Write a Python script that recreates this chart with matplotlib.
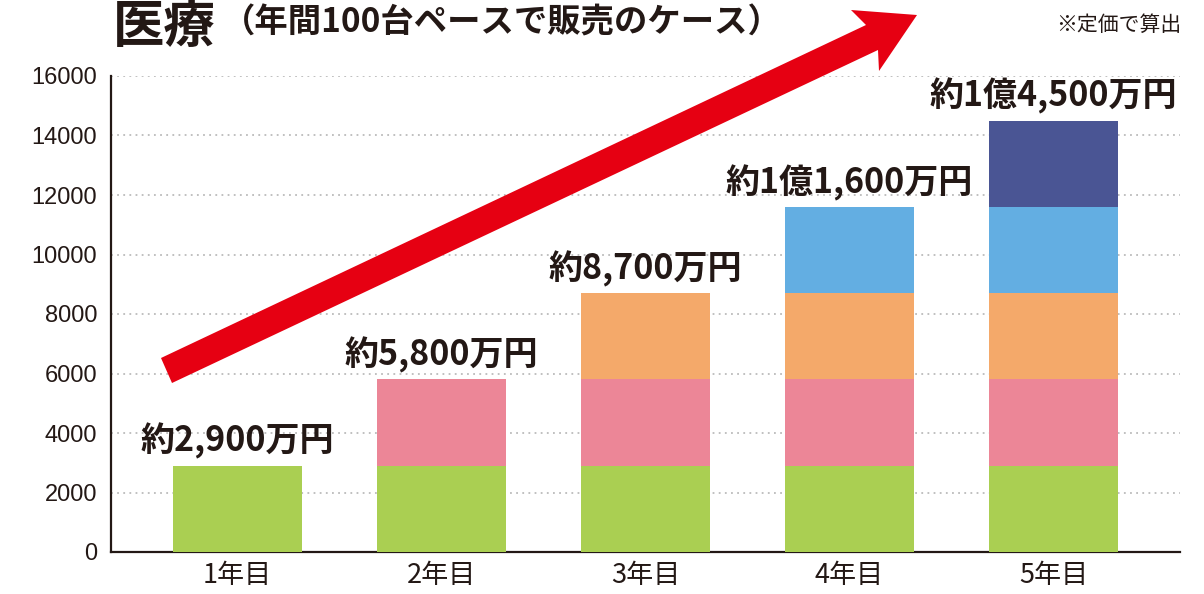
import matplotlib
matplotlib.use("Agg")
import matplotlib.pyplot as plt
from matplotlib.patches import Polygon
import numpy as np

plt.rcParams['font.family'] = ['Noto Sans CJK JP', 'DejaVu Sans']

# ---- data ----
categories = ["1年目", "2年目", "3年目", "4年目", "5年目"]
seg1 = [2900, 2900, 2900, 2900, 2900]
seg2 = [0, 2900, 2900, 2900, 2900]
seg3 = [0, 0, 2900, 2900, 2900]
seg4 = [0, 0, 0, 2900, 2900]
seg5 = [0, 0, 0, 0, 2900]
totals_labels = ["約2,900万円", "約5,800万円", "約8,700万円", "約1億1,600万円", "約1億4,500万円"]
yticks = [0, 2000, 4000, 6000, 8000, 10000, 12000, 14000, 16000]

colors = ["#AACF52", "#EC8697", "#F4A96A", "#63AEE2", "#4A5594"]
dark = "#231815"

W, H = 1204, 594
fig = plt.figure(figsize=(W / 100, H / 100), dpi=100)
ax = fig.add_axes([111 / W, (H - 552) / H, (1180 - 111) / W, (552 - 76) / H])

x = np.arange(len(categories))
bottom = np.zeros(len(categories))
for seg, c in zip([seg1, seg2, seg3, seg4, seg5], colors):
    vals = np.array(seg, dtype=float)
    ax.bar(x, vals, bottom=bottom, width=0.632, color=c, zorder=3, linewidth=0)
    bottom += vals

ax.set_xlim(-0.62, 4.62)
ax.set_ylim(0, 16000)
ax.set_yticks(yticks)
ax.set_yticklabels([str(v) for v in yticks], family=['Liberation Sans', 'DejaVu Sans'],
                   fontsize=17, color=dark)
ax.set_xticks(x)
ax.set_xticklabels(categories, fontsize=19.5, color=dark)
ax.tick_params(axis='y', length=0, pad=10)
ax.tick_params(axis='x', length=0, pad=7)

for v in yticks[1:]:
    ax.axhline(v, color="#BBBBBB", linewidth=1.3, linestyle=(0, (1, 2.4)), zorder=1)

for s in ['top', 'right']:
    ax.spines[s].set_visible(False)
for s in ['left', 'bottom']:
    ax.spines[s].set_color(dark)
    ax.spines[s].set_linewidth(1.6)

for xi, tot, lab in zip(x, bottom, totals_labels):
    ax.annotate(lab, (xi, tot), xytext=(0, 10), textcoords='offset points',
                ha='center', va='baseline', fontsize=24.5, fontweight='bold', color=dark,
                zorder=5)

# ---- arrow (decoration, figure pixel coordinates) ----
pts_px = [(161, 358), (866, 25), (851, 10), (917, 15), (879, 71), (878, 50), (172, 383)]
pts = [(px / W, (H - py) / H) for px, py in pts_px]
arrow = Polygon(pts, closed=True, facecolor="#E60012", edgecolor='none',
                transform=fig.transFigure, zorder=4)
fig.patches.append(arrow)

# ---- titles ----
fig.text(113 / W, 1.0, "医療", fontsize=37, fontweight='bold', color=dark,
         ha='left', va='top')
fig.text(222 / W, (H - 32) / H, "（年間100台ペースで販売のケース）", fontsize=24,
         fontweight='bold', color=dark, ha='left', va='baseline')
fig.text(1181 / W, (H - 31) / H, "※定価で算出", fontsize=15, color=dark,
         ha='right', va='baseline')

fig.savefig("out.png", dpi=100)
